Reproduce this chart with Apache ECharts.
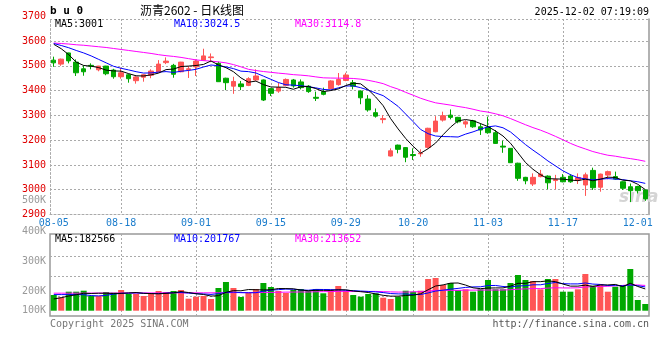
<!DOCTYPE html>
<html><head><meta charset="utf-8">
<script src="https://cdn.jsdelivr.net/npm/echarts@6/dist/echarts.min.js"></script>
<style>html,body{margin:0;padding:0;background:#fff}#c{width:660px;height:360px}</style>
</head><body><div id="c"></div>
<script>
const dates = ['08-05','08-06','08-07','08-08','08-11','08-12','08-13','08-14','08-15','08-18','08-19','08-20','08-21','08-22','08-25','08-26','08-27','08-28','08-29',
'09-01','09-02','09-03','09-04','09-05','09-08','09-09','09-10','09-11','09-12','09-15','09-16','09-17','09-18','09-19','09-22','09-23','09-24','09-25','09-26','09-29','09-30',
'10-09','10-10','10-13','10-14','10-15','10-16','10-17','10-20','10-21','10-22','10-23','10-24','10-27','10-28','10-29','10-30','10-31',
'11-03','11-04','11-05','11-06','11-07','11-10','11-11','11-12','11-13','11-14','11-17','11-18','11-19','11-20','11-21','11-24','11-25','11-26','11-27','11-28',
'12-01','12-02'];
const xTickLabels = ['08-05','08-18','09-01','09-15','09-29','10-20','11-03','11-17','12-01'];

const opens  = [3523,3507,3552,3515,3488,3502,3484,3499,3483,3456,3464,3440,3454,3462,3475,3513,3502,3476,3485,3496,3523,3533,3510,3450,3418,3427,3421,3443,3443,3408,3398,3421,3443,3435,3418,3373,3396,3408,3424,3441,3432,3398,3366,3311,3283,3136,3180,3170,3142,3145,3171,3234,3281,3301,3292,3265,3278,3254,3252,3230,3176,3167,3107,3050,3023,3053,3055,3037,3050,3055,3039,3019,3078,3010,3059,3053,3032,3012,3013,2999];
const closes = [3512,3527,3520,3472,3476,3498,3499,3468,3456,3472,3448,3455,3464,3479,3507,3519,3466,3515,3488,3519,3540,3536,3436,3432,3437,3416,3448,3459,3362,3389,3412,3445,3419,3412,3396,3369,3385,3439,3445,3463,3418,3371,3322,3297,3287,3157,3163,3131,3138,3148,3248,3277,3299,3292,3274,3274,3254,3241,3230,3187,3172,3109,3046,3036,3050,3063,3028,3041,3032,3032,3049,3060,3008,3063,3073,3043,3006,2996,2996,2963];
const lows   = [3496,3500,3510,3459,3460,3486,3478,3462,3448,3448,3432,3428,3436,3450,3473,3507,3452,3474,3451,3459,3521,3515,3435,3402,3387,3402,3418,3440,3358,3378,3391,3418,3412,3405,3391,3358,3381,3405,3420,3438,3405,3345,3315,3291,3268,3134,3147,3111,3120,3133,3167,3232,3275,3284,3268,3250,3250,3221,3226,3185,3149,3108,3036,3022,3015,3050,3002,3002,3030,3028,3023,2975,2999,2992,3042,3040,2999,2950,2985,2955];
const highs  = [3537,3529,3553,3526,3502,3510,3500,3500,3488,3492,3468,3458,3466,3486,3523,3534,3508,3516,3499,3526,3569,3550,3517,3452,3456,3439,3454,3486,3445,3410,3432,3449,3447,3445,3422,3396,3412,3442,3471,3472,3443,3401,3382,3328,3301,3167,3182,3172,3167,3163,3250,3297,3315,3324,3294,3281,3282,3268,3295,3241,3198,3168,3109,3052,3066,3080,3058,3060,3063,3063,3066,3069,3089,3065,3077,3073,3034,3025,3016,3001];

const ma5  = [3587,3569,3545,3515,3501.4,3498.6,3493.0,3482.6,3479.4,3478.6,3468.6,3459.8,3459.0,3463.6,3470.6,3484.8,3487.0,3497.2,3499.0,3501.4,3505.6,3519.6,3503.8,3492.6,3476.2,3451.4,3433.8,3438.4,3424.4,3414.8,3414.0,3413.4,3405.4,3415.4,3416.8,3408.2,3396.2,3400.2,3406.8,3420.2,3430.0,3427.2,3403.8,3374.2,3339.0,3286.8,3245.2,3207.0,3175.2,3147.4,3165.6,3188.4,3222.0,3252.8,3278.0,3283.2,3278.6,3267.0,3254.6,3237.2,3216.8,3187.8,3148.8,3110.0,3082.6,3060.8,3044.6,3043.6,3042.8,3039.2,3036.4,3042.8,3036.2,3042.4,3050.6,3049.4,3038.6,3036.2,3022.0,3000.6];
const ma10 = [3590,3582,3573,3562,3552,3540,3526,3512,3498,3490.0,3483.6,3476.4,3470.8,3471.5,3474.6,3476.7,3473.4,3478.1,3481.3,3486.0,3495.2,3503.3,3500.5,3495.8,3488.8,3478.5,3476.7,3471.1,3458.5,3445.5,3432.7,3423.6,3421.9,3419.9,3415.8,3411.1,3404.8,3402.8,3411.1,3418.5,3419.1,3411.7,3402.0,3390.5,3379.6,3358.4,3336.2,3305.4,3274.7,3243.2,3226.2,3216.8,3214.5,3214.0,3212.7,3224.4,3233.5,3244.5,3253.7,3257.6,3250.0,3233.2,3207.9,3182.3,3159.9,3138.8,3116.2,3096.2,3076.4,3060.9,3048.6,3043.7,3039.9,3042.6,3044.9,3042.9,3040.7,3036.2,3032.2,3025.6];
const ma30 = [3592,3590,3588,3585,3583,3580,3577,3574,3570,3566,3562,3558,3554,3550,3545,3541,3538,3534,3529,3524,3521,3519,3516,3512,3505,3496,3486,3481,3477,3473.8,3470.5,3467.8,3464.4,3462.4,3459.7,3455.4,3451.6,3450.7,3450.3,3450.0,3449.0,3446.2,3441.5,3435.4,3428.1,3416.0,3405.9,3393.1,3381.4,3369.1,3359.3,3350.7,3346.1,3341.5,3336.0,3331.3,3324.8,3317.6,3313.2,3306.4,3298.4,3287.2,3274.8,3262.3,3250.7,3240.5,3228.6,3215.4,3201.6,3187.2,3174.9,3164.6,3154.1,3146.3,3139.2,3135.4,3130.1,3125.6,3120.8,3114.7];

const volumes = [132700,113200,160600,160600,169000,124200,124200,158000,152100,174900,141100,141100,124200,141100,166500,158000,166500,174900,101400,118300,124200,98900,191800,242500,191800,115800,152100,183400,234100,200300,166500,149600,174900,183400,169000,183400,147000,174900,208700,169000,132700,118300,141100,147000,109900,98900,118300,169000,160600,169000,267900,276300,217200,234100,174900,180800,160600,180800,259400,180800,180800,234100,301700,259400,251000,180800,267900,267900,160600,160600,180800,310100,211300,225600,160600,202800,217200,352400,90400,56600];
const volMa5 = [99000,110000,124000,135000,147200,145500,147700,147200,145500,146700,150100,153400,146700,144500,142800,146200,151300,161400,153500,143800,137100,123500,126900,155100,169800,168200,178800,177100,175400,177100,187300,186800,185100,174900,168700,172100,171500,171500,176600,176600,166500,160700,154000,141600,129800,123000,123000,128600,131300,143200,177000,208600,218200,232900,234100,216700,193500,186200,191300,192500,192500,207200,231400,231400,245400,245400,252200,245400,225600,207600,207600,216000,204700,217700,217700,222100,203500,231700,204700,183900];
const volMa10 = [136000,136000,136000,136000,135000,128000,125000,130000,140000,147000,147800,150600,146900,145000,144700,148100,152400,154000,149000,143300,141600,137400,144200,154300,156800,152600,151200,152000,165300,173500,177700,182800,181100,175200,172900,179700,179200,178300,175800,172600,169300,166100,162800,159100,153200,144800,141900,141300,136500,136500,150000,165800,173400,182100,188600,196800,201000,202200,212100,213300,204600,200400,208800,211300,218900,218900,229700,238400,228500,226500,226500,234100,225000,221700,212600,214800,209800,218200,211200,200800];
const volMa30 = [148000,148000,148000,148000,148500,148500,149000,149000,149000,149500,149500,150000,150000,150000,150000,150500,150500,151000,151000,151000,151000,151000,151500,152000,152500,153000,153500,154000,154300,154600,155700,156900,157400,158200,158200,160100,160900,161500,163300,163100,162900,162100,162700,162900,161000,159000,157400,157200,159200,160900,165700,171600,172400,172100,171600,173700,174000,173900,174800,174100,174600,177400,181700,184200,186900,186800,190900,194000,192400,192100,193700,200100,202400,205000,206700,210200,213500,219600,217300,213500];

const priceLegend = ['MA5:3001', 'MA10:3024.5', 'MA30:3114.8'];
const volLegend = ['MA5:182566', 'MA10:201767', 'MA30:213652'];
const volTickLabels = ['400K', '300K', '200K', '100K'];
const topPriceLabel = '3700';
const strayVolLabel = '500K';
const symbolText = 'b u 0';
const titleText = '沥青2602 - 日K线图';
const timeText = '2025-12-02 07:19:09';
const footLeft = 'Copyright 2025 SINA.COM';
const footRight = 'http://finance.sina.com.cn';

const UP = '#ff5555', DOWN = '#00a800';
const MONO = '"DejaVu Sans Mono", monospace';
const GRIDC = '#aaaaaa';
const dotted = {color: GRIDC, width: 1, type: [2, 2]};

const candleData = dates.map((d, i) => [opens[i], closes[i], lows[i], highs[i]]);
const volData = volumes.map((v, i) => ({value: v, itemStyle: {color: closes[i] >= opens[i] ? UP : DOWN}}));

function txt(x, y, text, fill, opts) {
  opts = opts || {};
  return {type: 'text', x: x, y: y, z: opts.z || 100, silent: true,
    style: {text: text, fill: fill, font: opts.font || ('10px ' + MONO),
      align: opts.align || 'left', verticalAlign: 'middle'}};
}
const volLabelY = [231, 261, 291, 310];
const legendX = [55, 174, 295];
const legendColors = ['#000000', '#0000ff', '#ff00ff'];

const graphics = [
  txt(50, 11, symbolText, '#000', {font: 'bold 11px ' + MONO}),
  txt(140, 10, titleText, '#000', {font: '12px "Noto Sans CJK SC", sans-serif'}),
  txt(649, 12, timeText, '#000', {align: 'right'}),
  txt(46, 16.5, topPriceLabel, '#e00000', {align: 'right'}),
  txt(46, 200, strayVolLabel, '#999999', {align: 'right'}),
  txt(50, 324, footLeft, '#777777'),
  txt(649, 324, footRight, '#555555', {align: 'right'}),
  txt(619, 198, 'sina', '#d4d4d4', {font: 'italic bold 17px "DejaVu Sans", sans-serif', z: 1})
];
priceLegend.forEach((t, k) => graphics.push(txt(legendX[k], 24.5, t, legendColors[k])));
volLegend.forEach((t, k) => graphics.push(txt(legendX[k], 239, t, legendColors[k])));
volTickLabels.forEach((t, k) => graphics.push(txt(46, volLabelY[k], t, '#999999', {align: 'right'})));

const splitIdx = (i) => i > 0 && i < 78 && xTickLabels.indexOf(dates[i]) >= 0;

const option = {
  animation: false,
  backgroundColor: '#ffffff',
  grid: [
    {left: 50, right: 11, top: 19, height: 195.5, show: false},
    {left: 50, right: 11, top: 234, height: 82, show: true, borderColor: '#999999', borderWidth: 1.5}
  ],
  xAxis: [
    {type: 'category', gridIndex: 0, data: dates, boundaryGap: true,
      axisLine: {show: true, lineStyle: dotted},
      axisTick: {show: false, alignWithLabel: true},
      axisLabel: {interval: (i, v) => xTickLabels.indexOf(v) >= 0, color: '#1a7ccc', fontFamily: 'DejaVu Sans Mono', fontSize: 10, margin: 4},
      splitLine: {show: true, alignWithLabel: true, interval: (i) => splitIdx(i), lineStyle: dotted}},
    {type: 'category', gridIndex: 1, data: dates, boundaryGap: true,
      axisLine: {show: false}, axisTick: {show: false, alignWithLabel: true}, axisLabel: {show: false},
      splitLine: {show: true, alignWithLabel: true, interval: (i) => splitIdx(i), lineStyle: dotted}}
  ],
  yAxis: [
    {type: 'value', gridIndex: 0, min: 2900, max: 3689, interval: 100,
      axisLine: {show: true, lineStyle: dotted}, axisTick: {show: false},
      axisLabel: {color: '#e00000', fontFamily: 'DejaVu Sans Mono', fontSize: 10, margin: 4, showMaxLabel: false,
        formatter: (v) => String(Math.round(v))},
      splitLine: {show: true, lineStyle: dotted}},
    {type: 'value', gridIndex: 0, position: 'right', min: 0, max: 1,
      axisLine: {show: true, lineStyle: {color: '#999999', width: 1.5}}, axisTick: {show: false},
      axisLabel: {show: false}, splitLine: {show: false}},
    {type: 'value', gridIndex: 1, min: -44800, max: 648100, show: false, splitLine: {show: false}},
    {type: 'value', gridIndex: 1, min: 0, max: 4.1, interval: 1,
      axisLine: {show: false}, axisTick: {show: false}, axisLabel: {show: false},
      splitLine: {show: true, lineStyle: {color: ['rgba(0,0,0,0)', GRIDC, GRIDC, GRIDC, 'rgba(0,0,0,0)', 'rgba(0,0,0,0)'], width: 1, type: [2, 2]}}}
  ],
  series: [
    {type: 'candlestick', xAxisIndex: 0, yAxisIndex: 0, data: candleData, barWidth: 5, z: 3,
      itemStyle: {color: UP, color0: DOWN, borderColor: UP, borderColor0: DOWN, borderWidth: 1}},
    {type: 'line', xAxisIndex: 0, yAxisIndex: 0, data: ma30, symbol: 'none', z: 4, lineStyle: {width: 1, color: '#ff00ff'}},
    {type: 'line', xAxisIndex: 0, yAxisIndex: 0, data: ma10, symbol: 'none', z: 4, lineStyle: {width: 1, color: '#0000ff'}},
    {type: 'line', xAxisIndex: 0, yAxisIndex: 0, data: ma5, symbol: 'none', z: 4, lineStyle: {width: 1, color: '#000000'}},
    {type: 'bar', xAxisIndex: 1, yAxisIndex: 2, data: volData, barWidth: 6, z: 3},
    {type: 'line', xAxisIndex: 1, yAxisIndex: 2, data: volMa30, symbol: 'none', z: 4, lineStyle: {width: 1, color: '#ff00ff'}},
    {type: 'line', xAxisIndex: 1, yAxisIndex: 2, data: volMa10, symbol: 'none', z: 4, lineStyle: {width: 1, color: '#0000ff'}},
    {type: 'line', xAxisIndex: 1, yAxisIndex: 2, data: volMa5, symbol: 'none', z: 4, lineStyle: {width: 1, color: '#000000'}}
  ],
  graphic: graphics
};
const chart = echarts.init(document.getElementById('c'), null, {renderer: 'canvas'});
chart.setOption(option);
</script></body></html>
